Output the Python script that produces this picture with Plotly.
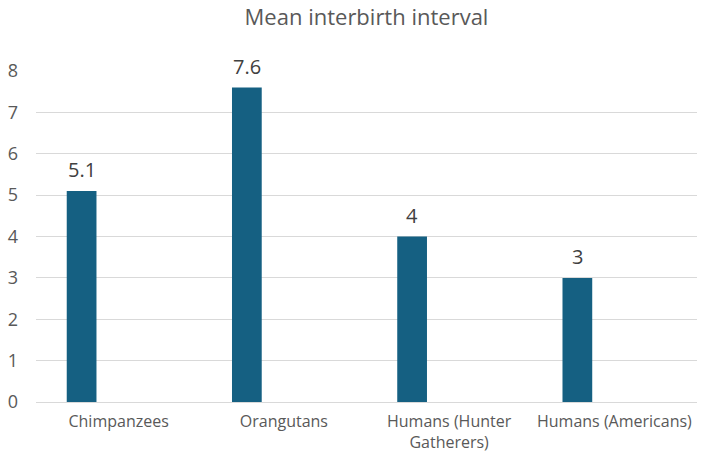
import plotly.graph_objects as go

categories = ["Chimpanzees", "Orangutans", "Humans (Hunter<br>Gatherers)", "Humans (Americans)"]
values = [5.1, 7.6, 4, 3]
value_labels = ["5.1", "7.6", "4", "3"]
y_ticks = [0, 1, 2, 3, 4, 5, 6, 7, 8]

FONT = "Open Sans"
BAR_OFFSET = -0.314
BAR_WIDTH = 0.18

fig = go.Figure()
fig.add_trace(go.Bar(
    x=list(range(len(categories))), y=values,
    marker=dict(color="#156082", line=dict(width=0)),
    offset=BAR_OFFSET, width=BAR_WIDTH,
    hoverinfo="skip",
))

for i, (v, t) in enumerate(zip(values, value_labels)):
    fig.add_annotation(
        x=i + BAR_OFFSET + BAR_WIDTH / 2, y=v, xref="x", yref="y",
        text=t, showarrow=False, yanchor="bottom", yshift=6,
        font=dict(family=FONT, size=20, color="#404040"),
    )

fig.update_layout(
    width=703, height=459,
    margin=dict(l=36, r=6, t=71, b=57, autoexpand=False),
    paper_bgcolor="white", plot_bgcolor="white",
    showlegend=False,
    title=dict(text="Mean interbirth interval", x=0.5, xref="paper",
               y=0.979, yref="container", yanchor="top",
               font=dict(family=FONT, size=22, color="#595959")),
    font=dict(family=FONT, color="#595959"),
)
fig.update_xaxes(
    range=[-0.5, len(categories) - 0.5],
    tickmode="array", tickvals=list(range(len(categories))), ticktext=categories,
    showgrid=False, zeroline=False, showline=False, ticks="",
    ticklabelstandoff=8, automargin=False,
    tickfont=dict(family=FONT, size=16, color="#595959"),
)
fig.update_yaxes(
    range=[0, 8], tickvals=y_ticks,
    showgrid=True, gridcolor="#d9d9d9", gridwidth=1,
    zeroline=True, zerolinecolor="#d9d9d9", zerolinewidth=1,
    showline=False, ticks="", ticklabelstandoff=17, automargin=False,
    tickfont=dict(family=FONT, size=18, color="#595959"),
)

fig.write_html(
    "out.html",
    config={"displayModeBar": False},
    post_script="document.body.style.margin='0';document.body.style.overflow='hidden';",
)
